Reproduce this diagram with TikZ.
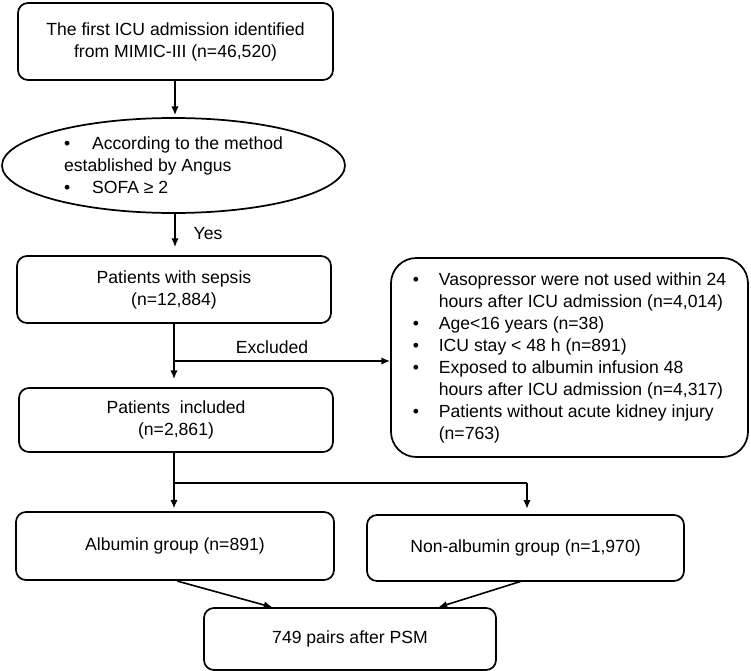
\documentclass[tikz,border=0pt]{standalone}
\usepackage{fontspec}
\setmainfont{Liberation Sans}
\usetikzlibrary{arrows.meta,shapes.geometric}
\begin{document}
\begin{tikzpicture}[x=0.75pt,y=-0.75pt,
  txt/.style={font=\fontsize{13.2}{16.5}\selectfont},
  box/.style={txt,draw,rounded corners=7.5pt,line width=1.3pt,align=center,inner sep=0pt},
  bigbox/.style={box,rounded corners=19pt,align=left},
  oval/.style={txt,draw,ellipse,line width=1.3pt,align=left,inner sep=0pt},
  arr/.style={-{Latex[length=6.5pt,width=5.5pt]},line width=1.2pt},
  ln/.style={line width=1.2pt}]
\useasboundingbox (0,0) rectangle (751,671);

\node[box,minimum width=236.25pt,minimum height=57.75pt] (b1) at (175.5,41.5)
  {The first ICU admission identified\\from MIMIC-III (n=46,520)};
\node[oval,minimum width=257.25pt,minimum height=71.25pt] (ell) at (173.5,165.5)
  {\makebox[21pt][l]{•}According to the method\\established by Angus\\\makebox[21pt][l]{•}SOFA ≥ 2};
\node[box,minimum width=235.5pt,minimum height=50.25pt] (b2) at (174,289.5)
  {Patients with sepsis\\(n=12,884)};
\node[bigbox,minimum width=267.75pt,minimum height=149.25pt] (excl) at (569.5,357.5)
  {\makebox[19.5pt][l]{•}Vasopressor were not used within 24\\
   \hspace*{19.5pt}hours after ICU admission (n=4,014)\\
   \makebox[19.5pt][l]{•}Age<16 years (n=38)\\
   \makebox[19.5pt][l]{•}ICU stay < 48 h (n=891)\\
   \makebox[19.5pt][l]{•}Exposed to albumin infusion 48\\
   \hspace*{19.5pt}hours after ICU admission (n=4,317)\\
   \makebox[19.5pt][l]{•}Patients without acute kidney injury\\
   \hspace*{19.5pt}(n=763)};
\node[box,minimum width=235.5pt,minimum height=48pt] (b3) at (176,420)
  {Patients\ \ included\\(n=2,861)};
\node[box,minimum width=238.5pt,minimum height=51pt] (alb) at (175,546)
  {Albumin group (n=891)};
\node[box,minimum width=237.75pt,minimum height=49.5pt] (non) at (525.5,548)
  {Non-albumin group (n=1,970)};
\node[box,minimum width=219pt,minimum height=46.5pt] (psm) at (350,639)
  {749 pairs after PSM};

\node[txt] (yes) at (208,234) {Yes};
\node[txt] (exc) at (272,347) {Excluded};

\coordinate (a1) at (175,80);
\coordinate (a2) at (175,213);
\coordinate (j1) at (174,361);
\coordinate (j2) at (174,483);
\coordinate (j3) at (527,483);

\draw[arr,shorten >=1.5pt] (a1) -- (a1 |- ell.north);
\draw[arr,shorten >=6pt] (a2) -- (a2 |- b2.north);
\draw[arr,shorten >=6pt] (j1 |- b2.south) -- (j1 |- b3.north);
\draw[arr] (j1) -- (excl.west |- j1);
\draw[arr,shorten >=2pt] (j2 |- b3.south) -- (j2 |- alb.north);
\draw[ln] (j2) -- (j3);
\draw[arr,shorten >=4pt] (j3) -- (j3 |- non.north);
\draw[arr,shorten >=2pt] (177,581) -- (275,608);
\draw[arr,shorten >=2pt] (522,581) -- (436,608);
\end{tikzpicture}
\end{document}
